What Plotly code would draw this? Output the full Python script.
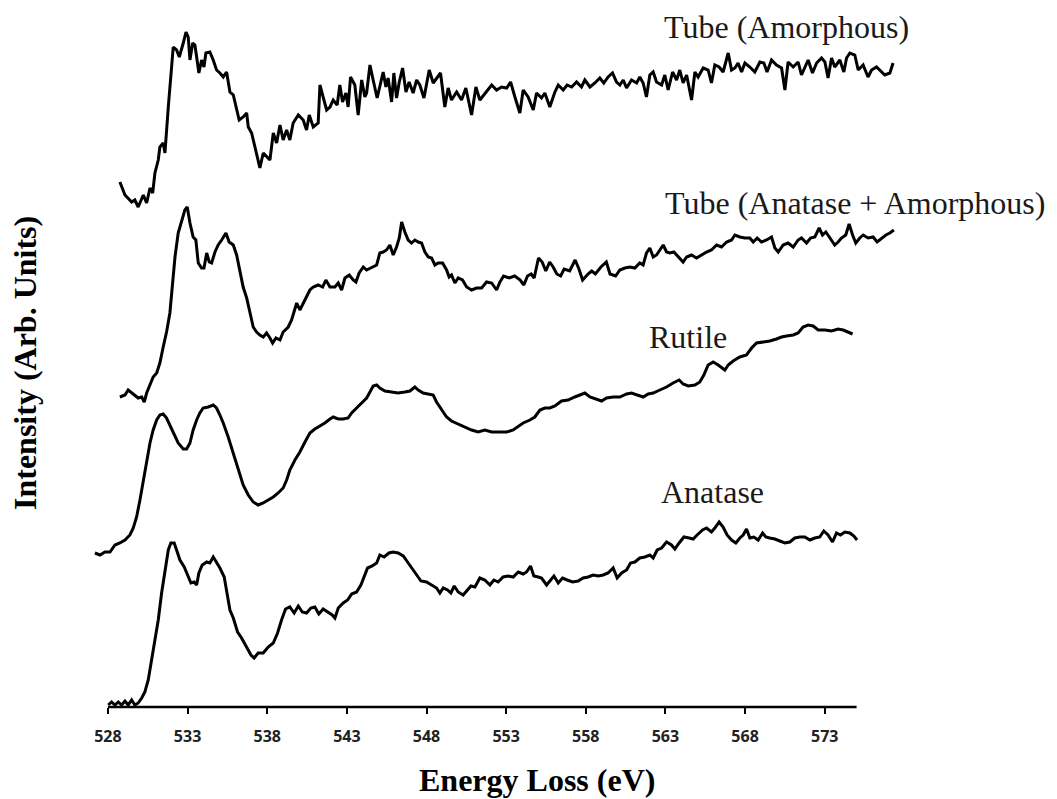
import plotly.graph_objects as go

# ---------------- data (Energy Loss in eV, intensity in arbitrary units) ----------------
tube_amorphous_e = [528.75, 529.07, 529.49, 529.69, 529.90, 530.22, 530.43, 530.64, 530.81, 530.95,
    531.16, 531.26, 531.47, 531.58, 531.79, 531.89, 532.10, 532.31, 532.48, 532.73,
    532.90, 533.04, 533.15, 533.32, 533.46, 533.57, 533.71, 533.88, 534.03, 534.15,
    534.40, 534.61, 534.82, 535.03, 535.24, 535.45, 535.66, 535.87, 536.08, 536.24,
    536.49, 536.71, 536.81, 537.02, 537.23, 537.37, 537.54, 537.75, 537.96, 538.17,
    538.38, 538.59, 538.80, 539.00, 539.22, 539.42, 539.63, 539.95, 540.26, 540.47,
    540.64, 540.89, 541.20, 541.31, 541.51, 541.73, 541.94, 542.14, 542.39, 542.56,
    542.73, 542.94, 543.08, 543.23, 543.50, 543.71, 543.93, 544.13, 544.24, 544.45,
    544.65, 544.90, 545.12, 545.28, 545.45, 545.59, 545.81, 545.95, 546.12, 546.29,
    546.50, 546.71, 546.91, 547.16, 547.38, 547.58, 547.84, 548.17, 548.42, 548.67,
    548.88, 549.15, 549.36, 549.57, 549.89, 550.20, 550.47, 550.83, 551.10, 551.35,
    551.77, 552.09, 552.40, 552.71, 553.03, 553.28, 553.55, 553.86, 554.07, 554.38,
    554.70, 554.91, 555.22, 555.43, 555.74, 556.06, 556.27, 556.58, 556.83, 557.11,
    557.42, 557.73, 557.94, 558.26, 558.57, 558.88, 559.13, 559.40, 559.68, 559.93,
    560.14, 560.35, 560.56, 560.87, 561.19, 561.39, 561.60, 561.81, 562.02, 562.23,
    562.44, 562.76, 562.96, 563.17, 563.45, 563.70, 563.90, 564.11, 564.33, 564.64,
    564.85, 565.05, 565.37, 565.68, 565.89, 566.10, 566.37, 566.62, 566.94, 567.15,
    567.36, 567.56, 567.78, 567.99, 568.30, 568.61, 568.93, 569.18, 569.38, 569.66,
    569.97, 570.29, 570.50, 570.70, 571.02, 571.33, 571.54, 571.75, 571.96, 572.23,
    572.49, 572.80, 573.01, 573.21, 573.43, 573.63, 573.95, 574.20, 574.37, 574.58,
    574.89, 575.10, 575.41, 575.72, 575.94, 576.25, 576.46, 576.77, 577.09, 577.29]
tube_amorphous_i = [525, 512, 505, 507, 500, 512, 504, 519, 514, 534,
    547, 560, 564, 554, 600, 622, 660, 657, 650, 664,
    675, 670, 647, 664, 662, 650, 634, 647, 640, 654,
    655, 647, 637, 634, 630, 635, 615, 612, 597, 587,
    590, 594, 580, 574, 560, 550, 539, 554, 550, 547,
    574, 564, 582, 567, 577, 567, 584, 592, 587, 577,
    592, 580, 584, 622, 610, 597, 600, 607, 602, 622,
    605, 614, 600, 630, 622, 592, 627, 610, 614, 642,
    627, 609, 624, 635, 620, 629, 605, 634, 609, 625,
    639, 615, 625, 614, 627, 622, 609, 637, 624, 629,
    634, 600, 619, 607, 615, 607, 619, 592, 620, 607,
    615, 622, 617, 620, 619, 625, 610, 594, 617, 610,
    597, 614, 609, 614, 600, 615, 622, 617, 622, 620,
    625, 620, 627, 620, 624, 629, 624, 630, 634, 625,
    622, 627, 619, 627, 624, 630, 624, 610, 632, 635,
    625, 622, 632, 617, 635, 627, 637, 624, 632, 607,
    635, 630, 639, 637, 624, 642, 640, 635, 654, 637,
    639, 644, 635, 644, 640, 635, 645, 644, 635, 647,
    642, 639, 617, 645, 640, 645, 632, 640, 647, 634,
    644, 649, 645, 629, 649, 640, 647, 635, 649, 654,
    652, 637, 642, 630, 637, 640, 637, 632, 634, 644]

tube_mixed_e = [528.75, 529.07, 529.27, 529.49, 529.69, 529.90, 530.12, 530.28, 530.43, 530.64,
    530.84, 531.06, 531.26, 531.47, 531.68, 531.89, 532.06, 532.21, 532.41, 532.63,
    532.83, 532.98, 533.15, 533.35, 533.52, 533.67, 533.88, 534.03, 534.20, 534.36,
    534.51, 534.72, 534.92, 535.14, 535.41, 535.61, 535.87, 536.08, 536.29, 536.49,
    536.71, 536.91, 537.12, 537.33, 537.54, 537.75, 537.96, 538.17, 538.34, 538.55,
    538.80, 539.00, 539.32, 539.53, 539.85, 540.05, 540.26, 540.47, 540.68, 540.89,
    541.20, 541.48, 541.68, 541.94, 542.25, 542.46, 542.67, 542.88, 543.15, 543.40,
    543.57, 543.77, 544.03, 544.24, 544.49, 544.65, 544.87, 545.07, 545.28, 545.49,
    545.70, 545.91, 546.12, 546.29, 546.44, 546.64, 546.85, 547.06, 547.27, 547.48,
    547.69, 547.90, 548.11, 548.32, 548.53, 548.73, 549.01, 549.26, 549.42, 549.57,
    549.78, 549.99, 550.26, 550.52, 550.83, 551.14, 551.46, 551.77, 552.09, 552.40,
    552.61, 552.84, 553.19, 553.54, 553.88, 554.11, 554.34, 554.57, 554.76, 555.03,
    555.26, 555.49, 555.73, 555.95, 556.18, 556.42, 556.64, 556.99, 557.33, 557.57,
    557.80, 558.14, 558.37, 558.60, 558.95, 559.29, 559.52, 559.87, 560.14, 560.45,
    560.77, 561.08, 561.39, 561.60, 561.81, 562.02, 562.23, 562.44, 562.76, 562.86,
    563.07, 563.28, 563.53, 563.80, 564.11, 564.33, 564.64, 564.95, 565.27, 565.58,
    565.89, 566.21, 566.52, 566.84, 567.15, 567.36, 567.67, 567.99, 568.30, 568.51,
    568.76, 569.03, 569.35, 569.66, 569.87, 570.08, 570.39, 570.70, 571.02, 571.33,
    571.54, 571.86, 572.11, 572.38, 572.65, 572.86, 573.07, 573.32, 573.63, 573.84,
    574.05, 574.32, 574.53, 574.75, 574.95, 575.20, 575.41, 575.72, 576.04, 576.29,
    576.57, 576.84, 577.09, 577.34]
tube_mixed_i = [310, 312, 317, 314, 312, 309, 310, 305, 314, 322,
    330, 334, 344, 360, 375, 394, 424, 450, 474, 487,
    497, 500, 484, 470, 467, 444, 439, 439, 454, 445,
    444, 455, 462, 467, 474, 465, 462, 452, 437, 420,
    409, 394, 380, 375, 372, 370, 374, 369, 364, 369,
    367, 375, 380, 387, 404, 397, 404, 410, 417, 420,
    422, 420, 427, 420, 420, 424, 417, 429, 432, 427,
    425, 434, 440, 437, 439, 440, 442, 454, 455, 457,
    462, 452, 460, 469, 485, 475, 467, 464, 467, 465,
    464, 455, 450, 449, 442, 444, 444, 437, 430, 432,
    424, 429, 427, 420, 417, 419, 419, 425, 424, 417,
    425, 431, 429, 431, 427, 422, 431, 433, 429, 449,
    445, 436, 445, 440, 433, 431, 438, 436, 447, 438,
    427, 433, 436, 433, 440, 445, 433, 431, 437, 439,
    440, 439, 444, 442, 454, 459, 450, 452, 459, 462,
    455, 454, 455, 450, 445, 450, 452, 449, 452, 455,
    457, 462, 460, 465, 467, 472, 470, 469, 469, 465,
    469, 465, 467, 470, 459, 455, 462, 464, 460, 467,
    469, 464, 469, 470, 479, 472, 475, 469, 462, 465,
    469, 472, 483, 472, 464, 469, 472, 469, 470, 465,
    469, 472, 474, 477]

rutile_e = [527.18, 527.50, 527.81, 528.13, 528.44, 528.75, 529.07, 529.38, 529.59, 529.80,
    530.01, 530.22, 530.43, 530.64, 530.84, 531.06, 531.26, 531.47, 531.68, 531.89,
    532.10, 532.41, 532.73, 532.94, 533.15, 533.35, 533.57, 533.77, 533.98, 534.30,
    534.61, 534.82, 535.03, 535.24, 535.55, 535.87, 536.18, 536.49, 536.81, 537.12,
    537.43, 537.75, 538.06, 538.38, 538.69, 539.00, 539.22, 539.42, 539.74, 540.05,
    540.37, 540.68, 540.99, 541.31, 541.62, 541.94, 542.14, 542.46, 542.77, 543.08,
    543.30, 543.61, 543.93, 544.24, 544.45, 544.65, 544.87, 545.07, 545.39, 545.81,
    546.22, 546.64, 546.96, 547.27, 547.48, 547.79, 548.11, 548.42, 548.63, 548.95,
    549.26, 549.57, 549.99, 550.41, 550.83, 551.24, 551.66, 552.09, 552.61, 553.03,
    553.44, 553.76, 554.07, 554.49, 554.80, 555.12, 555.43, 555.74, 556.06, 556.48,
    556.89, 557.31, 557.63, 557.94, 558.26, 558.68, 558.99, 559.30, 559.72, 560.14,
    560.56, 560.87, 561.19, 561.60, 561.92, 562.23, 562.65, 563.07, 563.48, 563.86,
    564.11, 564.43, 564.85, 565.16, 565.41, 565.68, 566.00, 566.31, 566.73, 566.94,
    567.25, 567.67, 568.09, 568.41, 568.72, 569.13, 569.55, 569.97, 570.29, 570.60,
    571.02, 571.33, 571.64, 571.96, 572.27, 572.59, 573.01, 573.43, 573.84, 574.16,
    574.47, 574.75]
rutile_i = [154, 152, 155, 155, 162, 164, 167, 172, 179, 190,
    207, 227, 245, 264, 277, 287, 292, 293, 289, 282,
    274, 264, 258, 258, 264, 277, 287, 294, 299, 300,
    302, 299, 292, 284, 270, 254, 237, 222, 212, 205,
    202, 204, 207, 210, 214, 219, 227, 237, 247, 255,
    265, 274, 278, 281, 284, 288, 290, 288, 288, 289,
    294, 299, 304, 309, 315, 321, 322, 319, 316, 315,
    314, 315, 316, 320, 317, 314, 313, 312, 305, 297,
    290, 286, 283, 280, 277, 275, 277, 275, 275, 275,
    277, 281, 284, 287, 290, 297, 299, 299, 301, 306,
    307, 310, 312, 314, 310, 308, 306, 309, 310, 310,
    313, 314, 312, 310, 313, 314, 317, 320, 324, 327,
    323, 321, 322, 325, 332, 342, 345, 342, 337, 342,
    346, 350, 352, 359, 364, 365, 366, 368, 370, 371,
    372, 374, 380, 382, 381, 377, 377, 376, 378, 377,
    375, 373]

anatase_e = [528.02, 528.23, 528.44, 528.65, 528.86, 529.07, 529.27, 529.49, 529.69, 529.90,
    530.12, 530.32, 530.53, 530.74, 530.95, 531.16, 531.37, 531.58, 531.79, 531.95,
    532.16, 532.31, 532.52, 532.79, 533.00, 533.21, 533.42, 533.57, 533.71, 533.92,
    534.20, 534.40, 534.61, 534.82, 535.03, 535.30, 535.45, 535.66, 535.87, 536.14,
    536.39, 536.71, 536.98, 537.18, 537.43, 537.75, 538.06, 538.38, 538.65, 538.90,
    539.15, 539.42, 539.69, 539.95, 540.20, 540.47, 540.74, 540.99, 541.24, 541.51,
    541.83, 542.08, 542.25, 542.46, 542.77, 543.05, 543.30, 543.61, 543.88, 544.09,
    544.30, 544.59, 544.87, 545.07, 545.34, 545.64, 545.91, 546.22, 546.54, 546.81,
    547.06, 547.38, 547.65, 548.00, 548.32, 548.63, 548.84, 549.05, 549.32, 549.53,
    549.74, 549.99, 550.30, 550.58, 550.79, 551.04, 551.24, 551.35, 551.66, 551.98,
    552.23, 552.50, 552.81, 553.13, 553.44, 553.76, 554.07, 554.28, 554.53, 554.74,
    555.01, 555.22, 555.54, 555.79, 556.00, 556.27, 556.54, 556.83, 557.17, 557.52,
    557.83, 558.15, 558.46, 558.78, 559.09, 559.40, 559.72, 559.97, 560.25, 560.56,
    560.81, 561.08, 561.39, 561.71, 562.02, 562.23, 562.48, 562.76, 563.07, 563.38,
    563.59, 563.86, 564.16, 564.49, 564.74, 564.99, 565.33, 565.58, 565.89, 566.10,
    566.37, 566.62, 566.87, 567.15, 567.42, 567.67, 567.88, 568.09, 568.30, 568.55,
    568.82, 569.10, 569.30, 569.55, 569.87, 570.18, 570.50, 570.81, 571.12, 571.44,
    571.75, 572.07, 572.38, 572.69, 572.94, 573.21, 573.49, 573.74, 573.99, 574.26,
    574.58, 574.83, 575.03]
anatase_i = [2, 5, 2, 5, 2, 6, 2, 7, 2, 4,
    9, 15, 27, 47, 64, 87, 114, 137, 157, 164,
    164, 157, 147, 140, 132, 124, 125, 122, 134, 142,
    145, 144, 150, 145, 139, 130, 115, 97, 89, 75,
    69, 59, 52, 49, 54, 54, 60, 64, 74, 87,
    98, 100, 94, 101, 95, 94, 99, 100, 93, 98,
    95, 92, 89, 99, 104, 107, 113, 115, 122, 130,
    139, 141, 144, 152, 150, 154, 155, 154, 151, 145,
    139, 132, 126, 125, 122, 119, 114, 119, 117, 114,
    121, 115, 112, 117, 121, 120, 125, 129, 127, 122,
    127, 125, 130, 131, 130, 135, 133, 135, 141, 131,
    130, 129, 122, 127, 131, 124, 129, 127, 125, 126,
    129, 130, 132, 131, 132, 134, 139, 129, 134, 137,
    144, 145, 149, 150, 152, 149, 157, 159, 165, 162,
    158, 164, 170, 169, 168, 172, 177, 179, 175, 179,
    185, 180, 172, 167, 164, 169, 172, 178, 169, 170,
    167, 174, 170, 169, 168, 166, 164, 165, 169, 170,
    170, 167, 169, 170, 176, 172, 165, 174, 172, 175,
    174, 171, 167]

tick_values = [528, 533, 538, 543, 548, 553, 558, 563, 568, 573]
tick_labels = ["528", "533", "538", "543", "548", "553", "558", "563", "568", "573"]
axis_start, axis_end = 528, 575

series = [
    ("Tube (Amorphous)", tube_amorphous_e, tube_amorphous_i),
    ("Tube (Anatase + Amorphous)", tube_mixed_e, tube_mixed_i),
    ("Rutile", rutile_e, rutile_i),
    ("Anatase", anatase_e, anatase_i),
]

# ---------------- layout geometry ----------------
W, H = 1057, 799
ML, MR, MT, MB = 92, 159, 20, 92
XMIN, XMAX = 527.0, 577.6
YMIN, YMAX = 0, 687
PW, PH = W - ML - MR, H - MT - MB


def px_x(px):
    return (px - ML) / PW


def px_y(py):
    return (H - MB - py) / PH


fig = go.Figure()
for name, e, i in series:
    fig.add_trace(go.Scatter(x=e, y=i, mode="lines", name=name,
                             line=dict(color="black", width=3),
                             showlegend=False, hoverinfo="skip"))

serif = "Liberation Serif, Times New Roman, serif"
label_font = dict(family=serif, size=32, color="#1a1a1a")
title_font = dict(family=serif, size=32, color="black", weight="bold")

annotations = [
    dict(text="Tube (Amorphous)", x=px_x(786), y=px_y(27)),
    dict(text="Tube (Anatase + Amorphous)", x=px_x(855), y=px_y(203)),
    dict(text="Rutile", x=px_x(687.5), y=px_y(337)),
    dict(text="Anatase", x=px_x(712.5), y=px_y(492)),
]
for a in annotations:
    a.update(xref="paper", yref="paper", showarrow=False, xanchor="center",
             yanchor="middle", font=label_font)
annotations.append(dict(text="Energy Loss (eV)", x=px_x(537), y=px_y(780),
                        xref="paper", yref="paper", showarrow=False,
                        xanchor="center", yanchor="middle", font=title_font))
annotations.append(dict(text="Intensity (Arb. Units)", x=px_x(25), y=px_y(363),
                        xref="paper", yref="paper", showarrow=False, textangle=-90,
                        xanchor="center", yanchor="middle", font=title_font))

fig.update_layout(
    width=W, height=H, autosize=False,
    margin=dict(l=ML, r=MR, t=MT, b=MB, pad=0),
    paper_bgcolor="white", plot_bgcolor="white",
    showlegend=False,
    annotations=annotations,
    shapes=[dict(type="line", xref="paper", yref="paper",
                 x0=(axis_start - XMIN) / (XMAX - XMIN),
                 x1=(axis_end - XMIN) / (XMAX - XMIN),
                 y0=0, y1=0, line=dict(color="black", width=2.5), layer="above")],
    xaxis=dict(range=[XMIN, XMAX], showgrid=False, zeroline=False, showline=False,
               tickmode="array", tickvals=tick_values, ticktext=tick_labels,
               ticks="outside", ticklen=6, tickwidth=2, tickcolor="black",
               ticklabelstandoff=9,
               tickfont=dict(family="Open Sans, Arial, sans-serif", size=16,
                             color="#222222", weight="bold")),
    yaxis=dict(range=[YMIN, YMAX], visible=False, showgrid=False, zeroline=False),
)

fig.write_html("out.html")
